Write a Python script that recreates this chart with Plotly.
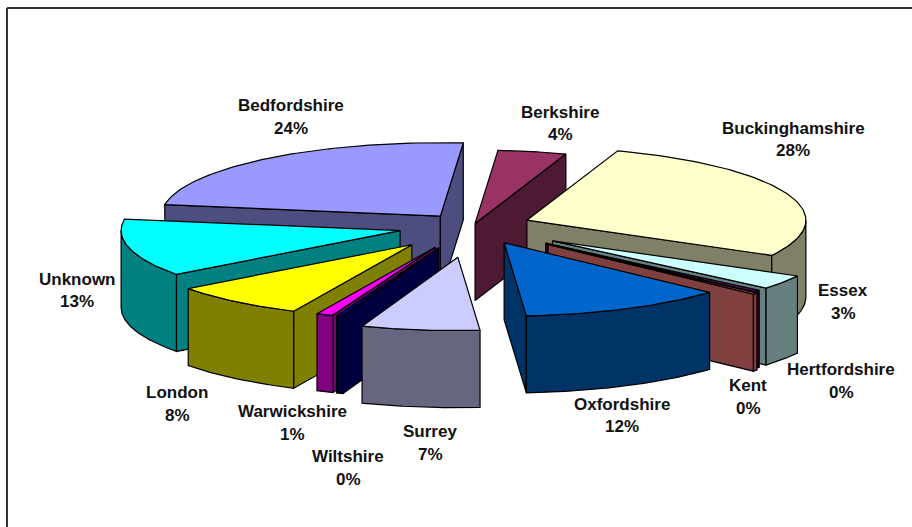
import numpy as np
import plotly.graph_objects as go

# ---- data ----
names = ["Bedfordshire", "Berkshire", "Buckinghamshire", "Essex", "Hertfordshire", "Kent",
         "Oxfordshire", "Surrey", "Wiltshire", "Warwickshire", "London", "Unknown"]
values = [24.0, 4.0, 27.9, 3.2, 0.4, 0.3, 12.0, 6.9, 0.4, 1.0, 7.9, 12.8]
pct_labels = ["24%", "4%", "28%", "3%", "0%", "0%", "12%", "7%", "0%", "1%", "8%", "13%"]

# ---- styling / layout ----
top_colors = ["#9999FF", "#993366", "#FFFFCC", "#CCFFFF", "#660066", "#FF8080",
              "#0066CC", "#CCCCFF", "#000080", "#FF00FF", "#FFFF00", "#00FFFF"]
side_colors = ["#4D4D80", "#4D1933", "#808066", "#668080", "#330033", "#804040",
               "#003366", "#666680", "#000040", "#800080", "#808000", "#008080"]
explode = [48, 10, 61, 100, 100, 105, 71, 120, 88, 88, 92, 72]
explode_nudge = [0, 3, 0, 0, 0, 0, 3, 4, 0, 0, 0, 0]
draw_order = ["Bedfordshire", "Berkshire", "Buckinghamshire", "Unknown", "Essex", "Hertfordshire",
              "Kent", "Oxfordshire", "London", "Warwickshire", "Wiltshire", "Surrey"]
label_x = [291, 560, 793, 843, 841, 748, 622, 430, 348, 292, 177, 77]
label_y1 = [105, 112, 128, 290, 369, 385, 404, 431, 456, 411, 392, 279]
label_y2 = [128, 134, 150, 313, 392, 408, 426, 454, 479, 434, 415, 301]

CX, CY = 470.0, 226.0
R, K, DEPTH = 279.0, 0.263, 77.0
START_ANGLE = 279.0


def plan(theta_deg, e, mid_deg, nudge):
    """Project plan coordinates (clockwise from north) onto the page."""
    t = np.radians(theta_deg)
    m = np.radians(mid_deg)
    ax = CX + nudge + e * np.sin(m)
    ay = CY - e * np.cos(m) * K
    return ax + R * np.sin(t), ay - R * K * np.cos(t), ax, ay


shares = np.array(values) / sum(values) * 360.0
starts = START_ANGLE + np.concatenate([[0], np.cumsum(shares)[:-1]])
ends = starts + shares

fig = go.Figure()


def poly(xs, ys, fill, name):
    fig.add_trace(go.Scatter(
        x=list(xs), y=list(ys), mode="lines", fill="toself", fillcolor=fill,
        line=dict(color="black", width=1.2), hoverinfo="skip", name=name, showlegend=False))


for nm in draw_order:
    i = names.index(nm)
    a, b = starts[i], ends[i]
    mid = (a + b) / 2
    e = explode[i]
    n = explode_nudge[i]
    # start wall
    if np.sin(np.radians(a)) < 0:
        x, y, ax, ay = plan(a, e, mid, n)
        poly([ax, x, x, ax, ax], [ay, y, y + DEPTH, ay + DEPTH, ay], side_colors[i], nm)
    # end wall
    if np.sin(np.radians(b)) > 0:
        x, y, ax, ay = plan(b, e, mid, n)
        poly([ax, x, x, ax, ax], [ay, y, y + DEPTH, ay + DEPTH, ay], side_colors[i], nm)
    # outer rim: only the part that faces the viewer
    for shift in (-360, 0, 360):
        lo, hi = max(a, 90 + shift), min(b, 270 + shift)
        if lo < hi:
            th = np.linspace(lo, hi, 60)
            x, y, _, _ = plan(th, e, mid, n)
            poly(list(x) + list(x[::-1]) + [x[0]],
                 list(y) + list(y[::-1] + DEPTH) + [y[0]], side_colors[i], nm)
    # top face
    th = np.linspace(a, b, 80)
    x, y, ax, ay = plan(th, e, mid, n)
    poly([ax] + list(x) + [ax], [ay] + list(y) + [ay], top_colors[i], nm)

annotations = []
for nm, p, lx, y1, y2 in zip(names, pct_labels, label_x, label_y1, label_y2):
    for txt, ly in ((nm, y1), (p, y2)):
        annotations.append(dict(
            x=lx, y=ly, text=txt, showarrow=False, xanchor="center", yanchor="middle",
            font=dict(family="Liberation Sans", size=17, color="#111111", weight="bold")))

frame = dict(color="#333333", width=2)
fig.update_layout(
    width=912, height=527, margin=dict(l=0, r=0, t=0, b=0),
    paper_bgcolor="white", plot_bgcolor="white", showlegend=False,
    xaxis=dict(range=[0, 912], visible=False, fixedrange=True),
    yaxis=dict(range=[527, 0], visible=False, fixedrange=True),
    annotations=annotations,
    shapes=[dict(type="line", x0=7, x1=912, y0=8, y1=8, line=frame),
            dict(type="line", x0=7, x1=7, y0=8, y1=527, line=frame)],
)
fig.write_html("out.html", config={"displayModeBar": False},
               post_script="document.body.style.margin='0';document.body.style.overflow='hidden';")
